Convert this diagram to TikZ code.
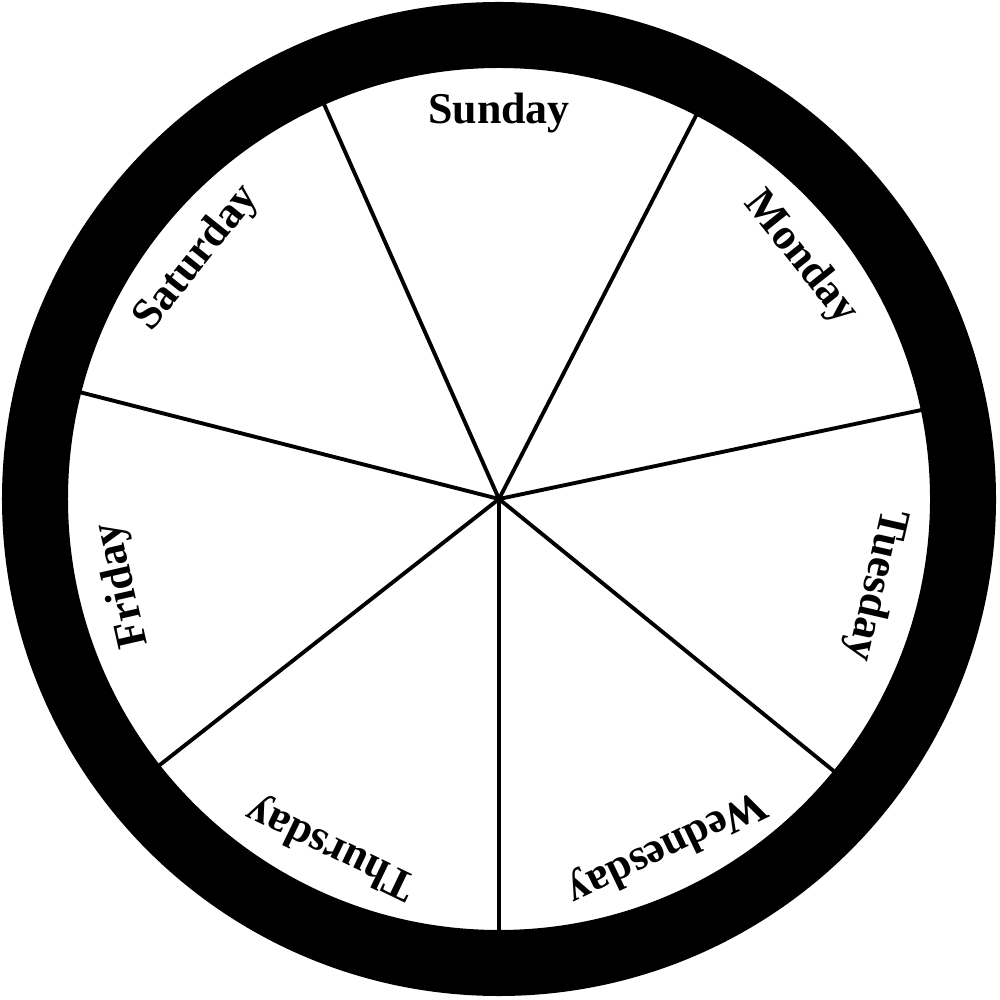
\documentclass[tikz,border=0pt]{standalone}
\usepackage{fontspec}
\setmainfont{Liberation Serif}
\usepackage{tikz}
\usetikzlibrary{calc}

\begin{document}
\begin{tikzpicture}[
  day/.style={font=\bfseries\fontsize{12.5}{14}\selectfont,inner sep=0pt},
  spoke/.style={line width=1.1pt},
  rim/.style={line width=0.66cm}]
\useasboundingbox (-4.99,-5.01) rectangle (5.01,4.99);
\coordinate (hub) at (0,0);
% spokes between the days
\foreach \a in {270,218.1,165.7,113.9,62.8,11.9,320.9}
  \draw[spoke] (hub) -- ($(hub)+(\a:4.4)$);
% outer ring
\draw[rim] (hub) circle (4.64);
% day labels, turned along the rim
\foreach \n/\d [count=\i from 0] in {sun/Sunday,mon/Monday,tue/Tuesday,wed/Wednesday,thu/Thursday,fri/Friday,sat/Saturday}
  \node[day,rotate={-51.43*\i}] (\n) at ($(hub)+({90-51.43*\i}:3.86)$) {\d};
\end{tikzpicture}
\end{document}
